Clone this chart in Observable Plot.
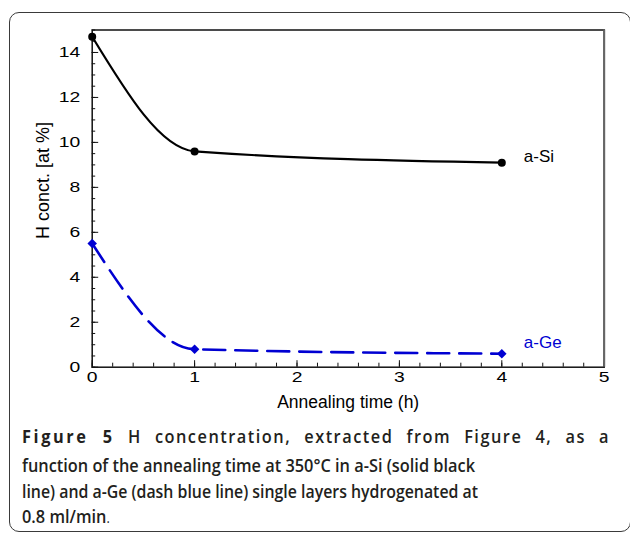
<!DOCTYPE html>
<html><head><meta charset="utf-8">
<script src="https://cdn.jsdelivr.net/npm/d3@7"></script>
<script src="https://cdn.jsdelivr.net/npm/@observablehq/plot@0.6"></script>
<style>
html,body{margin:0;padding:0;background:#fff;}
#wrap{position:relative;width:630px;height:534px;overflow:hidden;background:#fff;}
#box{position:absolute;left:9px;top:12px;width:622px;height:520px;border:1.5px solid #3a3a3a;border-radius:10px;box-sizing:border-box;}
#chart{position:absolute;left:0;top:0;}
.cap{position:absolute;left:22px;white-space:nowrap;font-family:"Open Sans",sans-serif;font-size:18px;font-weight:600;line-height:26px;color:#231f20;transform-origin:0 0;}
.cap b{font-weight:700;}
.cap .p{font-weight:400;font-size:14px;}
</style></head><body>
<div id="wrap"><div id="box"></div><div id="chart"></div>
<div class="cap" id="c1" style="top:423px"><b id="fig">Figure 5</b> H concentration, extracted from Figure 4, as a</div>
<div class="cap" id="c2" style="top:451.5px">function of the annealing time at 350°C in a-Si (solid black</div>
<div class="cap" id="c3" style="top:478px">line) and a-Ge (dash blue line) single layers hydrogenated at</div>
<div class="cap" id="c4" style="top:503px">0.8 ml/min<span class="p">.</span></div>
</div>
<script>
// Data
const times = [0, 1, 4];
const aSi = [14.7, 9.6, 9.1];
const aGe = [5.5, 0.8, 0.6];
const seriesNames = ["a-Si", "a-Ge"];
const xTicks = [0, 1, 2, 3, 4, 5];
const yTicks = [0, 2, 4, 6, 8, 10, 12, 14];
const xLabel = "Annealing time (h)";
const yLabel = "H conct. [at %]";

const blue = "#0000d2";
const siData = times.map((t, i) => ({t, v: aSi[i]}));
const geData = times.map((t, i) => ({t, v: aGe[i]}));
const xMinor = d3.range(0, 5.0001, 0.2);
const yMinor = d3.range(0, 15.0001, 0.5);

const W = 630, H = 420, mL = 91.7, mR = 26.3, mT = 29.5, mB = 53.3;
const pw = W - mL - mR, ph = H - mT - mB;

const chart = Plot.plot({
  width: W, height: H,
  marginLeft: mL, marginRight: mR, marginTop: mT, marginBottom: mB,
  x: {domain: [0, 5]},
  y: {domain: [0, 15]},
  style: {fontFamily: "'Liberation Sans', Arial, sans-serif", fontSize: "14px", color: "#000", background: "transparent"},
  marks: [
    Plot.tickY(yMinor, {y: d => d, insetRight: pw - 3.5, stroke: "#111"}),
    Plot.tickY(yTicks, {y: d => d, insetRight: pw - 6.5, stroke: "#111"}),
    Plot.tickX(xMinor, {x: d => d, insetTop: ph - 4, stroke: "#111"}),
    Plot.tickX(xTicks, {x: d => d, insetTop: ph - 6.5, stroke: "#111"}),
    Plot.axisY(yTicks, {tickSize: 0, tickPadding: 12, fontSize: 14, label: null}),
    Plot.axisX(xTicks, {tickSize: 0, tickPadding: 5, fontSize: 14, label: null}),
    Plot.frame({stroke: "#111", strokeWidth: 1.5}),
    Plot.ruleX([5], {stroke: "#666", strokeWidth: 2}),
    Plot.text([yLabel], {frameAnchor: "left", dx: -48.7, dy: -18, rotate: -90, fontSize: 18, textAnchor: "middle", lineAnchor: "middle"}),
    Plot.text([xLabel], {frameAnchor: "bottom", dy: 35, fontSize: 17.5, textAnchor: "middle", lineAnchor: "middle"}),
    Plot.line(siData, {x: "t", y: "v", curve: "monotone-x", stroke: "#000", strokeWidth: 2.2}),
    Plot.line(geData, {x: "t", y: "v", curve: "monotone-x", stroke: blue, strokeWidth: 2.6, strokeDasharray: "22,10"}),
    Plot.dot(siData, {x: "t", y: "v", r: 4, fill: "#000"}),
    Plot.dot(geData, {x: "t", y: "v", r: 4.3, symbol: "diamond2", fill: blue}),
    Plot.text(siData.slice(-1), {x: "t", y: "v", text: () => seriesNames[0], dx: 22, dy: -6, textAnchor: "start", fontSize: 17, fill: "#000"}),
    Plot.text(geData.slice(-1), {x: "t", y: "v", text: () => seriesNames[1], dx: 22, dy: -11.5, textAnchor: "start", fontSize: 17, fill: blue})
  ]
});
document.getElementById("chart").appendChild(chart);

// the reference's tick labels are set in a wide face: stretch them about their anchor
chart.querySelectorAll('[aria-label="y-axis tick label"] text, [aria-label="x-axis tick label"] text').forEach(t => {
  const tr = t.getAttribute("transform");
  if (tr) t.setAttribute("transform", tr + " scale(1.38,1)");
});

// fit caption lines to the reference widths
(function fit() {
  const els = ["c1", "c2", "c3", "c4"].map(id => document.getElementById(id));
  const s2 = 453 / els[1].getBoundingClientRect().width;
  const s3 = 456 / els[2].getBoundingClientRect().width;
  // line 1 is justified: letter spacing (wider on the bold label) plus word gaps
  const c1 = els[0];
  const fig = document.getElementById("fig");
  c1.style.letterSpacing = (1.5 / s2) + "px";
  fig.style.letterSpacing = (2.6 / s2) + "px";
  const w1 = c1.getBoundingClientRect().width;
  const spaces = (c1.textContent.match(/ /g) || []).length;
  c1.style.wordSpacing = Math.max(0, (588 / s2 - w1) / spaces) + "px";
  c1.style.transform = `scaleX(${s2})`;
  els[1].style.transform = `scaleX(${s2})`;
  els[2].style.transform = `scaleX(${s3})`;
  els[3].style.transform = `scaleX(${s2})`;
})();
</script>
</body></html>
